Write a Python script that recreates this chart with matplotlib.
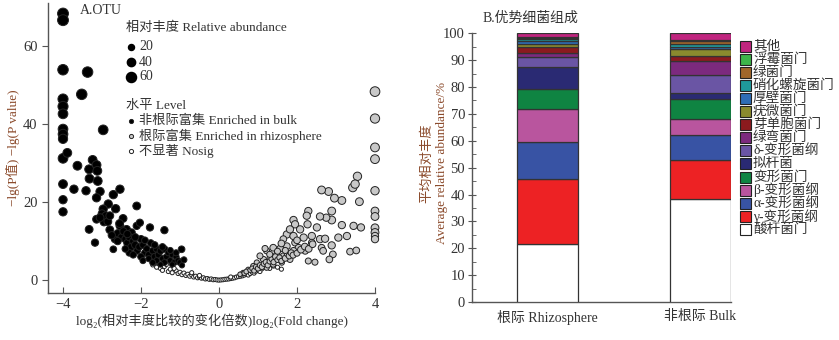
import matplotlib
matplotlib.use("Agg")
import matplotlib.pyplot as plt
from matplotlib.patches import Rectangle

SERIF = ['Liberation Serif', 'Noto Sans CJK SC', 'DejaVu Sans']
plt.rcParams['font.family'] = SERIF

# ---- panel A: volcano data (x = log2 fold change, y = -lg P, a = relative abundance)
bulk_pts = [
    (-4.0, 68.3, 70), (-4.0, 66.6, 70), (-4.0, 53.9, 65), (-4.0, 46.4, 60), (-4.0, 44.5, 60),
    (-4.0, 42.6, 55), (-4.0, 38.7, 55), (-4.0, 37.4, 55), (-4.0, 36.2, 50), (-4.0, 31.2, 55),
    (-4.0, 24.6, 45), (-4.0, 20.6, 40), (-4.0, 17.5, 40), (-3.37, 53.3, 65), (-3.52, 47.6, 65),
    (-2.97, 38.5, 55), (-3.89, 32.6, 45), (-3.63, 29.3, 45), (-3.24, 30.8, 45), (-3.14, 29.5, 45),
    (-3.33, 28.4, 45), (-3.12, 28.0, 45), (-3.32, 26.0, 45), (-3.11, 25.4, 45), (-3.72, 23.3, 40),
    (-3.41, 22.9, 40), (-3.05, 22.7, 40), (-3.14, 21.1, 40), (-2.71, 21.9, 40), (-2.54, 23.3, 40),
    (-2.84, 19.5, 40), (-2.97, 18.2, 40), (-2.65, 18.3, 40), (-2.11, 19.0, 35), (-3.14, 15.6, 35),
    (-2.95, 14.9, 35), (-3.33, 13.0, 35), (-3.18, 9.6, 30), (-2.80, 12.9, 35), (-2.67, 10.5, 30),
    (-2.71, 7.9, 25), (-2.46, 15.8, 35), (-2.54, 13.9, 35), (-2.37, 13.0, 35), (-2.24, 12.2, 30),
    (-2.11, 13.9, 30), (-2.03, 14.7, 30), (-1.77, 13.5, 30), (-1.40, 12.8, 30), (-0.96, 7.9, 25),
    (-3.0, 17.0, 35), (-2.9, 16.5, 35), (-2.85, 15.0, 35), (-3.05, 16.0, 35), (-2.6, 12.0, 30),
    (-2.5, 11.0, 30), (-2.45, 12.5, 30), (-2.4, 10.5, 30), (-2.35, 9.5, 30), (-2.3, 11.0, 30),
    (-2.25, 8.5, 30), (-2.2, 10.0, 30), (-2.15, 9.0, 30), (-2.1, 7.5, 25), (-2.05, 8.5, 25),
    (-2.0, 10.5, 30), (-1.95, 9.0, 25), (-1.9, 7.0, 25), (-1.85, 8.0, 25), (-1.8, 6.5, 25),
    (-1.75, 9.5, 25), (-1.7, 7.5, 25), (-1.65, 6.0, 25), (-1.6, 8.0, 25), (-1.55, 6.5, 25),
    (-1.5, 7.5, 25), (-1.45, 5.5, 20), (-1.4, 8.0, 25), (-1.35, 6.0, 20), (-1.3, 7.0, 20),
    (-1.25, 5.0, 20), (-1.2, 6.5, 20), (-1.15, 4.5, 20), (-1.1, 6.0, 20), (-1.05, 5.0, 20),
    (-1.0, 4.5, 20), (-0.95, 3.8, 15), (-0.9, 5.2, 20), (-2.3, 7.0, 25), (-2.0, 6.0, 25),
    (-1.8, 5.5, 20), (-1.6, 5.0, 20), (-1.4, 4.5, 20), (-1.2, 4.0, 15), (-2.6, 10.0, 30),
    (-2.75, 11.5, 30), (-2.4, 8.0, 25), (-2.2, 6.5, 25), (-1.95, 5.0, 20), (-1.7, 4.5, 20),
    (-1.5, 4.0, 15), (-2.55, 14.5, 35), (-2.35, 11.8, 30), (-2.15, 11.0, 30), (-1.9, 10.2, 25),
    (-1.65, 9.0, 25), (-1.45, 8.5, 25), (-1.25, 7.6, 20), (-1.1, 7.0, 20), (-2.8, 16.5, 35),
]

rhizo_pts = [
    (4.0, 48.3, 55), (4.0, 41.4, 50), (4.0, 34.0, 45), (4.0, 31.0, 45), (4.0, 22.9, 40),
    (4.0, 17.7, 35), (4.0, 16.3, 35), (4.0, 13.4, 35), (4.0, 12.2, 35), (4.0, 11.3, 30),
    (4.0, 10.5, 30), (3.55, 26.6, 40), (3.43, 23.7, 40), (3.49, 24.6, 40), (3.60, 20.1, 35),
    (3.15, 20.4, 35), (2.96, 21.0, 35), (2.81, 22.7, 35), (2.63, 23.1, 35), (2.89, 17.7, 35),
    (2.89, 15.4, 35), (2.75, 16.0, 30), (2.59, 16.3, 30), (2.29, 17.7, 30), (2.25, 16.5, 30),
    (1.91, 15.4, 30), (1.95, 14.3, 30), (2.27, 14.3, 30), (2.51, 13.5, 30), (3.15, 14.1, 30),
    (3.45, 13.9, 30), (3.64, 13.5, 30), (3.28, 11.3, 30), (3.06, 10.9, 30), (2.89, 8.9, 30),
    (2.92, 6.6, 25), (2.83, 5.3, 25), (3.36, 7.3, 25), (3.52, 7.6, 25), (2.46, 4.6, 20),
    (2.29, 4.9, 20), (1.82, 5.3, 20), (1.65, 6.2, 20), (1.74, 8.7, 25), (1.95, 9.6, 25),
    (2.04, 8.3, 25), (2.17, 10.9, 30), (2.38, 11.3, 30), (2.59, 10.5, 30), (2.72, 10.6, 30),
    (2.63, 8.3, 25), (2.67, 7.5, 25), (2.38, 9.6, 25), (2.21, 7.5, 25), (1.91, 7.5, 25),
    (1.74, 11.7, 30), (1.65, 10.5, 25), (1.57, 8.1, 25), (1.39, 8.3, 25), (1.22, 7.5, 20),
    (1.18, 8.1, 20), (1.48, 6.6, 20), (1.31, 5.7, 20), (1.14, 5.3, 20), (0.97, 4.5, 15),
    (0.88, 3.6, 15), (1.05, 6.2, 20), (1.61, 4.5, 15), (1.39, 4.0, 15), (1.22, 3.2, 15),
    (0.75, 2.7, 12), (0.62, 1.9, 12), (0.54, 1.5, 10), (1.91, 11.3, 30), (1.82, 13.0, 30),
    (2.08, 13.0, 30), (0.65, 1.8, 12), (0.7, 2.2, 12), (0.8, 2.6, 12), (0.85, 3.0, 12),
    (0.9, 2.4, 12), (0.95, 3.4, 15), (1.0, 3.0, 15), (1.05, 3.8, 15), (1.1, 3.4, 15),
    (1.15, 4.2, 15), (1.2, 4.6, 15), (1.25, 3.8, 15), (1.3, 4.8, 15), (1.35, 5.4, 15),
    (1.4, 4.6, 15), (1.45, 6.0, 20), (1.5, 5.2, 15), (1.55, 5.8, 15), (1.6, 4.9, 15),
    (1.7, 5.6, 20), (1.75, 6.8, 20), (1.8, 6.2, 20), (1.85, 7.0, 20), (1.9, 6.4, 20),
    (2.0, 6.9, 20), (2.1, 7.8, 25), (2.2, 8.6, 25), (2.3, 8.0, 25), (2.4, 9.2, 25),
    (1.5, 7.4, 20), (1.3, 6.6, 20), (1.6, 9.4, 25), (1.7, 7.6, 20), (2.0, 10.2, 25),
]

nosig_pts = [
    (-1.7, 3.9, 8), (-1.6, 3.3, 8), (-1.5, 3.0, 8), (-1.45, 2.5, 8), (-1.4, 3.5, 8),
    (-1.3, 2.2, 8), (-1.25, 2.8, 8), (-1.2, 1.9, 8), (-1.1, 2.4, 8), (-1.05, 1.7, 8),
    (-1.0, 2.0, 8), (-0.95, 1.4, 8), (-0.9, 1.8, 8), (-0.85, 1.2, 8), (-0.8, 1.5, 8),
    (-0.75, 1.0, 8), (-0.7, 1.3, 8), (-0.65, 0.8, 8), (-0.6, 1.0, 8), (-0.55, 0.6, 8),
    (-0.5, 0.8, 8), (-0.45, 0.5, 8), (-0.4, 0.6, 8), (-0.35, 0.3, 8), (-0.3, 0.4, 8),
    (-0.25, 0.2, 8), (-0.2, 0.3, 8), (-0.15, 0.1, 8), (-0.1, 0.15, 8), (-0.05, 0.05, 8),
    (0.0, 0.0, 8), (0.05, 0.05, 8), (0.1, 0.1, 8), (0.15, 0.2, 8), (0.2, 0.25, 8),
    (0.25, 0.3, 8), (0.3, 0.4, 8), (0.35, 0.5, 8), (0.4, 0.6, 8), (0.45, 0.8, 8),
    (0.5, 0.9, 8), (0.55, 1.0, 8), (0.6, 1.1, 8), (0.65, 1.3, 8), (0.7, 1.5, 8),
    (0.75, 1.3, 8), (0.8, 1.7, 8), (0.85, 2.0, 8), (0.9, 1.8, 8), (0.95, 2.3, 8),
    (1.0, 2.6, 8), (1.05, 2.2, 8), (1.1, 2.9, 8), (1.2, 3.2, 8), (1.3, 3.0, 8),
    (1.4, 3.6, 8), (1.5, 3.3, 8), (1.6, 2.8, 8), (-1.6, 4.5, 8), (-1.35, 4.0, 8),
    (-1.15, 3.0, 8), (-0.7, 1.9, 8), (-0.5, 1.2, 8), (0.3, 0.8, 8), (0.55, 1.5, 8),
]

size_levels = [20, 40, 60]

# ---- panel B: stacked composition (%)
groups = ['根际 Rhizosphere', '非根际 Bulk']
taxa = ['酸杆菌门', 'γ-变形菌纲', 'α-变形菌纲', 'β-变形菌纲', '变形菌门', '拟杆菌',
        'δ-变形菌纲', '绿弯菌门', '芽单胞菌门', '疣微菌门', '厚壁菌门', '硝化螺旋菌门',
        '绿菌门', '浮霉菌门', '其他']
rhizo_vals = [21.6, 24.0, 14.1, 12.0, 7.7, 8.2, 3.6, 1.4, 2.4, 1.0, 1.0, 0.8, 0.5, 0.5, 1.2]
bulk_vals = [38.2, 14.8, 9.1, 5.9, 7.5, 2.3, 6.8, 5.0, 2.0, 2.7, 0.7, 1.2, 0.8, 0.5, 2.5]
taxa_colors = ['#ffffff', '#ed2224', '#3853a4', '#b9559e', '#0f8442', '#2a2a73',
               '#6a55a4', '#7c2a7e', '#8b1a1e', '#8a8a2e', '#2e6db5', '#1f9a9b',
               '#a0662a', '#3db54a', '#c0257f']

label_color = '#8b4a2b'
tick_color = '#333333'

fig = plt.figure(figsize=(8.39, 3.40), dpi=100)

# ---------- panel A
ax1 = fig.add_axes([48 / 839, 47 / 340, 327 / 839, 290 / 340])


def sz(a):
    # marker area grows with relative abundance
    return 0.85 * a + 2


for pts, fc in [(nosig_pts, 'white'), (rhizo_pts, '#c8c8c8'), (bulk_pts, 'black')]:
    xs = [p[0] for p in pts]
    ys = [p[1] for p in pts]
    ss = [sz(p[2]) for p in pts]
    ax1.scatter(xs, ys, s=ss, c=fc, edgecolors='#222222', linewidths=0.7, clip_on=False, zorder=3)

ax1.set_xlim(-4.385, 4.0)
ax1.set_ylim(-3.3, 71)
ax1.set_xticks([-4, -2, 0, 2, 4])
ax1.set_yticks([0, 20, 40, 60])
ax1.set_xticklabels(['−4', '−2', '0', '2', '4'])
for s in ['top', 'right']:
    ax1.spines[s].set_visible(False)
for s in ['left', 'bottom']:
    ax1.spines[s].set_color('#555555')
    ax1.spines[s].set_linewidth(1.0)
ax1.tick_params(axis='x', direction='in', length=4, colors='#555555', labelcolor=tick_color, labelsize=10.5)
ax1.tick_params(axis='y', direction='out', length=4, colors='#555555', labelcolor=tick_color, labelsize=10.5)
ax1.set_xlabel('log₂(相对丰度比较的变化倍数)log₂(Fold change)', fontsize=9.5, color='#333333', labelpad=2)
ax1.set_ylabel('−lg(P值) −lg(P value)', fontsize=9.5, color=label_color, labelpad=2)

fig.text(80 / 839, 1 - 10 / 340, 'A.OTU', fontsize=10, color='#333333', va='center')
fig.text(126 / 839, 1 - 28 / 340, '相对丰度 Relative abundance', fontsize=9.5, color='#333333', va='center')
for i, a in enumerate(size_levels):
    yy = 47 + i * 15
    ax1.scatter([(131 - 48) / 327], [(293 - yy) / 290], s=sz(a), c='black',
                transform=ax1.transAxes, clip_on=False, zorder=4)
    fig.text(139 / 839, 1 - yy / 340, str(a), fontsize=10, color='#333333', va='center')

fig.text(126 / 839, 1 - 106 / 340, '水平 Level', fontsize=9.5, color='#333333', va='center')
level_labels = ['非根际富集 Enriched in bulk', '根际富集 Enriched in rhizosphere', '不显著 Nosig']
level_fc = ['black', '#c8c8c8', 'white']
for i, (lab, fc) in enumerate(zip(level_labels, level_fc)):
    yy = 121 + i * 15
    ax1.scatter([(131 - 48) / 327], [(293 - yy) / 290], s=9, c=fc, edgecolors='#222222',
                linewidths=0.7, transform=ax1.transAxes, clip_on=False, zorder=4)
    fig.text(139 / 839, 1 - yy / 340, lab, fontsize=9.5, color='#333333', va='center')

# ---------- panel B
ax2 = fig.add_axes([472 / 839, 38 / 340, 259 / 839, 268.7 / 340])
xpos = [0, 1]
bottoms = [0.0, 0.0]
for j, taxon in enumerate(taxa):
    vals = [rhizo_vals[j], bulk_vals[j]]
    ax2.bar(xpos, vals, width=0.4, bottom=bottoms, color=taxa_colors[j],
            edgecolor='#333333', linewidth=0.9, zorder=3)
    bottoms = [bottoms[0] + vals[0], bottoms[1] + vals[1]]

ax2.set_xlim(-0.493, 1.2)
ax2.set_ylim(0, 100)
ax2.set_yticks(range(0, 101, 10))
ax2.set_yticks(range(5, 100, 10), minor=True)
ax2.set_xticks(xpos)
ax2.set_xticklabels(groups, fontsize=10, color=tick_color)
for s in ['top', 'right']:
    ax2.spines[s].set_visible(False)
for s in ['left', 'bottom']:
    ax2.spines[s].set_color('#555555')
    ax2.spines[s].set_linewidth(1.0)
ax2.tick_params(axis='y', which='major', direction='inout', length=6, colors='#555555',
                labelcolor=tick_color, labelsize=10.5, pad=2)
ax2.tick_params(axis='y', which='minor', direction='in', length=3, colors='#555555')
ax2.tick_params(axis='x', length=0, pad=6)

fig.text(483 / 839, 1 - 18 / 340, 'B.优势细菌组成', fontsize=10, color='#333333', va='center')
fig.text(427 / 839, 1 - 163 / 340, '平均相对丰度', fontsize=9.5, color=label_color,
         rotation=90, ha='center', va='center')
fig.text(442 / 839, 1 - 163 / 340, 'Average relative abundance/%', fontsize=9.5,
         color=label_color, rotation=90, ha='center', va='center')

# legend (top = 其他 ... bottom = 酸杆菌门)
for i, j in enumerate(range(len(taxa) - 1, -1, -1)):
    yy = 46 + i * 13.1
    fig.patches.append(Rectangle((740 / 839, 1 - (yy + 5.5) / 340), 10.5 / 839, 11 / 340,
                                 facecolor=taxa_colors[j], edgecolor='#222222', linewidth=0.8,
                                 transform=fig.transFigure, figure=fig))
    fig.text(753 / 839, 1 - yy / 340, taxa[j], fontsize=9.8, color='#333333', va='center')

fig.savefig('out.png', dpi=100)
